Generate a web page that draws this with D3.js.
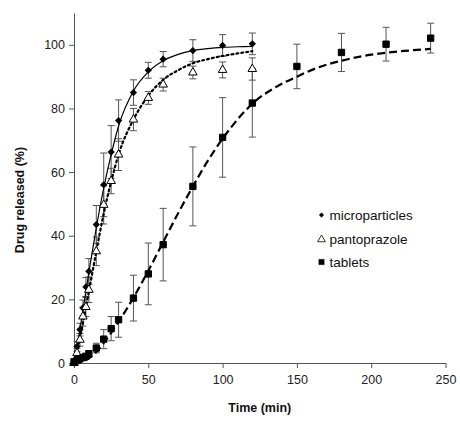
<!DOCTYPE html>
<html>
<head>
<meta charset="utf-8">
<script src="https://cdn.jsdelivr.net/npm/d3@7"></script>
<style>
  body { margin: 0; background: #fff; }
  .axis path, .axis line { stroke: #555; }
  .axis text { font-family: "Liberation Sans", Arial, sans-serif; font-size: 12.5px; fill: #222; }
  .label-text { font-family: "Liberation Sans", Arial, sans-serif; font-size: 12.5px; font-weight: bold; fill: #111; }
  .legend-text { font-family: "Liberation Sans", Arial, sans-serif; font-size: 13.5px; fill: #111; }
</style>
</head>
<body>
<script>
// measured points (time in min, % released, +/- error)
var microTime = [0, 2, 4, 6, 8, 10, 15, 20, 25, 30, 40, 50, 60, 80, 100, 120];
var microValue = [0, 5.2, 10.5, 17.3, 23.9, 28.8, 43.5, 56, 66.3, 76.2, 85, 92, 95.5, 98.2, 99.8, 100.3];
var microErr = [0, 1.5, 2, 2.5, 3, 4, 6, 10, 8.3, 6.5, 4, 2.5, 2.4, 3.4, 3.4, 3.4];

var pantoTime = [0, 2, 4, 6, 8, 10, 15, 20, 25, 30, 40, 50, 60, 80, 100, 120];
var pantoValue = [0, 3.1, 7.3, 14.6, 17.6, 23, 35.1, 49.7, 57.2, 65.5, 76.5, 83.3, 87.5, 91.3, 92.1, 92.4];
var pantoErr = [0, 1.5, 2, 3, 3, 4, 4.5, 6, 4, 5, 3.5, 2, 2, 2, 2.5, 3.5];

var tabTime = [0, 2, 4, 6, 8, 10, 15, 20, 25, 30, 40, 50, 60, 80, 100, 120, 150, 180, 210, 240];
var tabValue = [0.4, 0.8, 1.3, 1.7, 2.1, 2.9, 4.7, 7.5, 10.8, 13.6, 20.4, 28, 37.2, 55.5, 70.9, 81.7, 93.2, 97.6, 100.2, 102.1];
var tabErr = [0, 0, 0.5, 0.5, 0.8, 1, 1.5, 3, 3.8, 5.5, 7.2, 9.7, 11.4, 12.4, 12.5, 10.7, 7, 6, 5.3, 4.7];

// fitted curves
var microFitTime = [0, 2, 4, 6, 8, 10, 15, 20, 25, 30, 40, 50, 60, 70, 80, 90, 100, 110, 120];
var microFitValue = [0, 5, 10.5, 16.5, 22.5, 28.5, 42.5, 55, 65.5, 74.5, 85.5, 91.5, 95, 97, 98.2, 98.8, 99.2, 99.4, 99.5];

var pantoFitTime = [0, 2, 4, 6, 8, 10, 15, 20, 25, 30, 40, 50, 60, 70, 80, 90, 100, 110, 120];
var pantoFitValue = [0, 3.5, 8, 12.5, 17.5, 22.5, 35, 47, 57, 65.5, 76.5, 84, 89, 92, 94.2, 95.5, 96.5, 97.3, 98];

var tabFitTime = [0, 5, 10, 15, 20, 25, 30, 40, 50, 60, 70, 80, 90, 100, 110, 120, 135, 150, 165, 180, 195, 210, 225, 240];
var tabFitValue = [0, 0.3, 1.5, 3.5, 6.3, 9.5, 13, 20.5, 29, 38, 47, 55.5, 63.5, 70.5, 76.5, 81.5, 86.5, 90, 93, 95, 96.5, 97.5, 98.2, 98.7];

var xTicks = [0, 50, 100, 150, 200, 250];
var yTicks = [0, 20, 40, 60, 80, 100];
var seriesNames = ["microparticles", "pantoprazole", "tablets"];

var margin = {top: 13, right: 14, bottom: 58, left: 74},
    width = 460 - margin.left - margin.right,
    height = 421 - margin.top - margin.bottom;

var svg = d3.select("body").append("svg")
    .attr("width", 460)
    .attr("height", 421)
    .append("g")
    .attr("transform", "translate(" + margin.left + "," + margin.top + ")");

var x = d3.scaleLinear().domain([0, 250]).range([0, 371.5]);
var y = d3.scaleLinear().domain([0, 110]).range([height, 0]);

function zip(t, v, e) {
    return t.map(function(d, i) { return {t: d, v: v[i], e: e ? e[i] : 0}; });
}

var series = [
    {name: seriesNames[0], pts: zip(microTime, microValue, microErr), fit: zip(microFitTime, microFitValue),
     symbol: d3.symbolSquare, rot: 45, size: 17, fill: "#000", dash: null},
    {name: seriesNames[1], pts: zip(pantoTime, pantoValue, pantoErr), fit: zip(pantoFitTime, pantoFitValue),
     symbol: d3.symbolTriangle, rot: 0, size: 32, fill: "#fff", dash: "2,3"},
    {name: seriesNames[2], pts: zip(tabTime, tabValue, tabErr), fit: zip(tabFitTime, tabFitValue),
     symbol: d3.symbolSquare, rot: 0, size: 40, fill: "#000", dash: "8,4"}
];

svg.append("g")
    .attr("class", "axis")
    .attr("transform", "translate(0," + height + ")")
    .call(d3.axisBottom(x).tickValues(xTicks).tickSize(5).tickSizeOuter(0).tickPadding(7));

svg.append("g")
    .attr("class", "axis")
    .call(d3.axisLeft(y).tickValues(yTicks).tickSize(5).tickSizeOuter(0).tickPadding(4));

var line = d3.line()
    .x(d => x(d.t))
    .y(d => y(d.v))
    .curve(d3.curveMonotoneX);

// error bars
series.forEach(function(s) {
    var g = svg.append("g").attr("class", "errbar");
    s.pts.filter(d => d.e > 0).forEach(function(d) {
        g.append("line")
            .attr("x1", x(d.t)).attr("x2", x(d.t))
            .attr("y1", y(d.v - d.e)).attr("y2", y(d.v + d.e))
            .attr("stroke", "#555").attr("stroke-width", 1);
        [d.v - d.e, d.v + d.e].forEach(function(v) {
            g.append("line")
                .attr("x1", x(d.t) - 3.5).attr("x2", x(d.t) + 3.5)
                .attr("y1", y(v)).attr("y2", y(v))
                .attr("stroke", "#555").attr("stroke-width", 1);
        });
    });
});

// fitted curves
svg.selectAll(".fit")
    .data(series)
    .enter()
    .append("path")
    .attr("class", "fit")
    .attr("d", d => line(d.fit))
    .attr("fill", "none")
    .attr("stroke", "#000")
    .attr("stroke-width", (d, i) => i == 0 ? 1.2 : 2.2)
    .attr("stroke-linecap", (d, i) => i == 1 ? "round" : "butt")
    .attr("stroke-dasharray", d => d.dash);

// markers
series.forEach(function(s) {
    svg.selectAll(".pt-" + s.name)
        .data(s.pts)
        .enter()
        .append("path")
        .attr("transform", d => "translate(" + x(d.t) + "," + y(d.v) + ") rotate(" + s.rot + ")")
        .attr("d", d3.symbol().type(s.symbol).size(s.size))
        .attr("fill", s.fill)
        .attr("stroke", "#000")
        .attr("stroke-width", 1);
});

// legend
var legend = svg.append("g")
    .attr("class", "legend")
    .attr("transform", "translate(" + (321.5 - margin.left) + "," + (215 - margin.top) + ")");

series.forEach(function(s, i) {
    var yy = i == 0 ? 0 : (i == 1 ? 24.5 : 47);
    legend.append("path")
        .attr("transform", "translate(0," + yy + ") rotate(" + s.rot + ")")
        .attr("d", d3.symbol().type(s.symbol).size(i == 0 ? 10 : (i == 1 ? 26 : 28)))
        .attr("fill", s.fill)
        .attr("stroke", "#000")
        .attr("stroke-width", i == 1 ? 0.8 : 0.5);
    legend.append("text")
        .attr("class", "legend-text")
        .attr("x", 8)
        .attr("y", yy)
        .attr("dominant-baseline", "central")
        .text(s.name);
});

svg.append("text")
    .attr("class", "label-text")
    .attr("x", x(125))
    .attr("y", 408 - margin.top)
    .attr("text-anchor", "middle")
    .attr("dominant-baseline", "central")
    .text("Time (min)");

svg.append("text")
    .attr("class", "label-text")
    .attr("transform", "translate(" + (20 - margin.left) + "," + (200 - margin.top) + ") rotate(-90)")
    .attr("text-anchor", "middle")
    .attr("dominant-baseline", "central")
    .text("Drug released (%)");
</script>
</body>
</html>
